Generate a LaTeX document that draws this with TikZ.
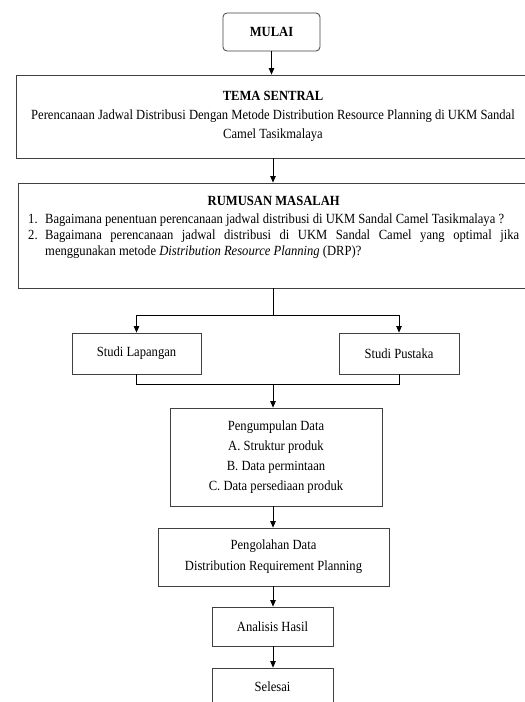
\documentclass[tikz,border=0pt]{standalone}
\usepackage{fontspec}
\setmainfont{Liberation Serif}[FakeStretch=0.9]
\usetikzlibrary{arrows.meta}
\begin{document}
\begin{tikzpicture}[x=1pt,y=-1pt,
 box/.style={draw=black!75, line width=0.8pt, inner sep=0pt, align=center, font=\fontsize{14}{20}\selectfont},
 arr/.style={-{Triangle[length=6.5pt,width=5.5pt]}, line width=0.8pt},
 ln/.style={line width=0.8pt}]
\useasboundingbox (0,0) rectangle (525,702);
\clip (0,0) rectangle (525,702);
\node[box, rounded corners=4pt, minimum width=97pt, minimum height=38pt] (mulai) at (271.5,32) {\textbf{MULAI}};
\node[box, minimum width=514pt, minimum height=83pt, font=\fontsize{14}{19}\selectfont] (tema) at (273,116.5)
 {\textbf{TEMA SENTRAL}\\Perencanaan Jadwal Distribusi Dengan Metode Distribution Resource Planning di UKM Sandal\\Camel Tasikmalaya};
\node[box, minimum width=510pt, minimum height=105pt] (rumusan) at (273,235.5) {};
\node[anchor=north west, inner sep=0pt] (rumusantext) at (28,196) {\begin{minipage}{491pt}\fontsize{14}{16}\selectfont
{\centering\textbf{RUMUSAN MASALAH}\par}\vspace{2pt}
\noindent\makebox[17pt][l]{1.}Bagaimana penentuan perencanaan jadwal distribusi di UKM Sandal Camel Tasikmalaya ?\par
\hangindent=17pt\hangafter=1\noindent\makebox[17pt][l]{2.}Bagaimana perencanaan jadwal distribusi di UKM Sandal Camel yang optimal jika\linebreak menggunakan metode \textit{Distribution Resource Planning} (DRP)?\par
\end{minipage}};
\node[box, minimum width=129pt, minimum height=41pt] (lap) at (136.5,353.5) {Studi Lapangan};
\node[box, minimum width=120pt, minimum height=41pt] (pus) at (399,353.5) {Studi Pustaka};
\node[box, minimum width=212pt, minimum height=98pt] (kumpul) at (276,457) {Pengumpulan Data\\A. Struktur produk\\B. Data permintaan\\C. Data persediaan produk};
\node[box, minimum width=231pt, minimum height=58pt, font=\fontsize{14}{21}\selectfont] (olah) at (273.5,557) {Pengolahan Data\\Distribution Requirement Planning};
\node[box, minimum width=121pt, minimum height=39pt] (anal) at (272.5,626.5) {Analisis Hasil};
\node[box, minimum width=121pt, minimum height=38pt] (sel) at (272.5,687) {Selesai};
\coordinate (split) at (273,315);
\coordinate (merge) at (273,384);
\draw[arr] (mulai.south) -- (mulai.south |- tema.north);
\draw[arr] (tema.south -| split) -- (rumusan.north -| split);
\draw[ln] (rumusan.south -| split) -- (split);
\draw[arr] (split) -| (lap.north);
\draw[arr] (split) -| (pus.north);
\draw[ln] (lap.south) |- (merge);
\draw[ln] (pus.south) |- (merge);
\draw[arr] (merge) -- (merge |- kumpul.north);
\draw[arr] (kumpul.south -| merge) -- (olah.north -| merge);
\draw[arr] (olah.south -| merge) -- (anal.north -| merge);
\draw[arr] (anal.south -| merge) -- (sel.north -| merge);
\end{tikzpicture}
\end{document}
